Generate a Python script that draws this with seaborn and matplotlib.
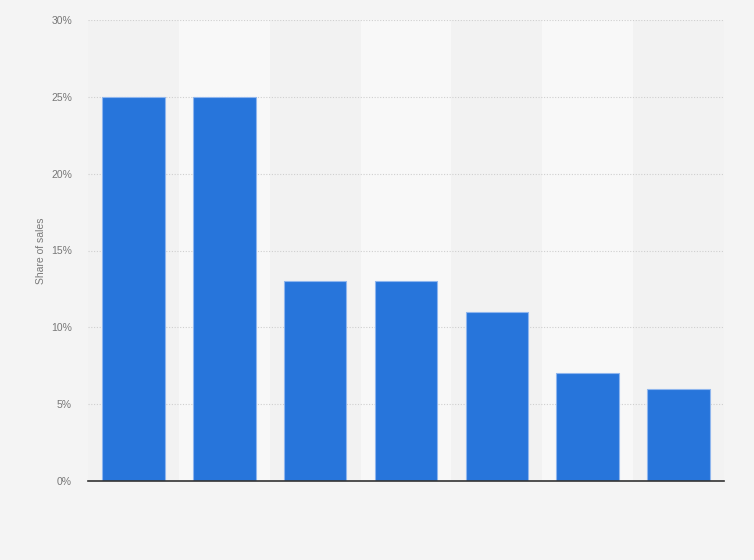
import matplotlib
matplotlib.use("Agg")
import matplotlib.pyplot as plt
import seaborn as sns
import pandas as pd
from matplotlib.ticker import FuncFormatter

categories = ["A", "B", "C", "D", "E", "F", "G"]
share_of_sales = [25, 25, 13, 13, 11, 7, 6]
y_ticks = [0, 5, 10, 15, 20, 25, 30]

df = pd.DataFrame({"category": categories, "share": share_of_sales})

sns.set_theme(style="white")
plt.rcParams["font.family"] = ["Liberation Sans", "DejaVu Sans"]

fig = plt.figure(figsize=(7.54, 5.6), dpi=100, facecolor="#f4f4f4")
ax = fig.add_axes([88/754, 1-481/560, (724-88)/754, (481-20)/560])
ax.set_facecolor("#f2f2f2")

for i in range(len(categories)):
    if i % 2 == 1:
        ax.axvspan(i-0.5, i+0.5, color="#f8f8f8", zorder=0, lw=0)

ax.yaxis.grid(True, color="#cfcfcf", linestyle=(0, (1, 1.5)), linewidth=0.8, zorder=1)
ax.set_axisbelow(True)

sns.barplot(data=df, x="category", y="share", color="#2775db", saturation=1,
            width=0.69, edgecolor="#8fb6ee", linewidth=0.8, ax=ax, zorder=3)

ax.set_xlim(-0.5, len(categories)-0.5)
ax.set_ylim(0, 30)
ax.set_yticks(y_ticks)
ax.yaxis.set_major_formatter(FuncFormatter(lambda v, p: f"{v:.0f}%"))
ax.set_xticks([])
ax.set_xlabel("")
ax.set_ylabel("Share of sales", color="#7a7a7a", fontsize=7.5, labelpad=3.5)
ax.tick_params(axis="y", colors="#777777", labelsize=7.5, length=0, pad=11.5)
for s in ["top", "right", "left"]:
    ax.spines[s].set_visible(False)
ax.spines["bottom"].set_color("#333333")
ax.spines["bottom"].set_linewidth(1.2)
ax.spines["bottom"].set_zorder(4)

fig.savefig("out.png", dpi=100, facecolor=fig.get_facecolor())
